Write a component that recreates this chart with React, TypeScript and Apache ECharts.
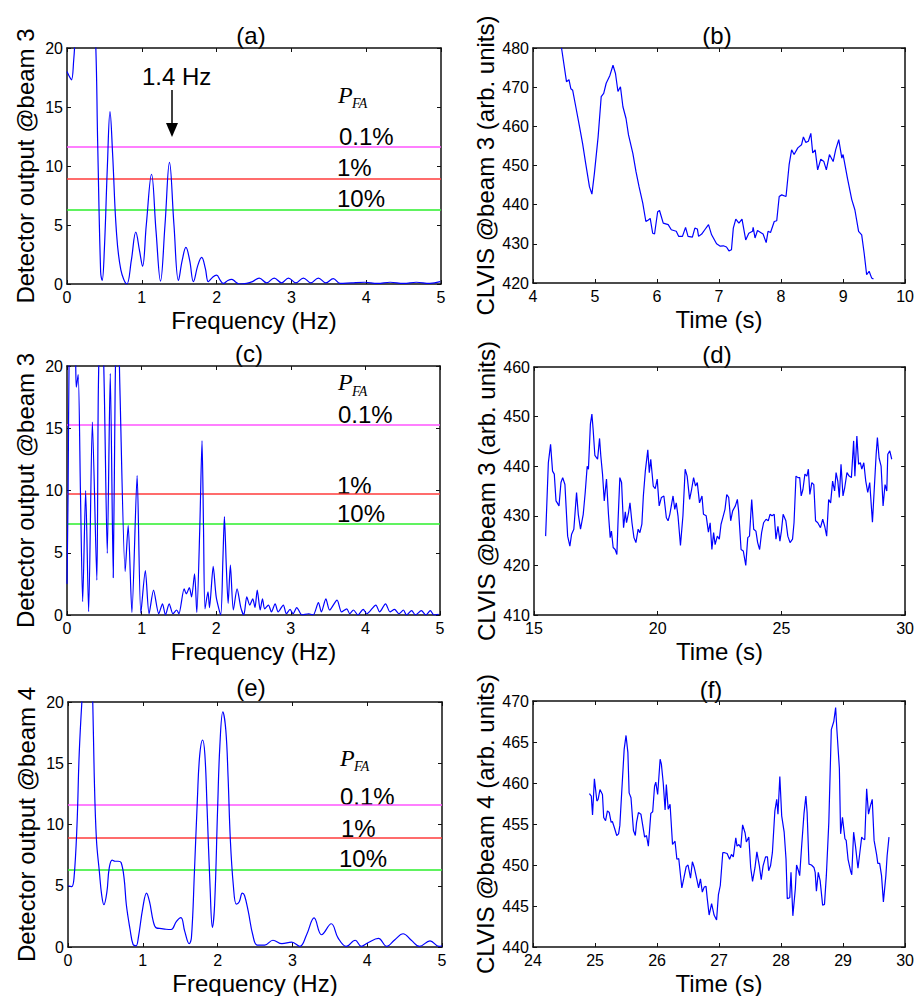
import React, { useEffect, useRef } from "react";
import * as echarts from "echarts";

// ---------- data ----------
const A_SPECTRUM: [number, number][] = [
  [0, 18.0], [0.03, 17.6], [0.06, 17.3], [0.09, 19], [0.11, 21], [0.2, 30], [0.3, 30], [0.38, 21],
  [0.41, 12], [0.45, 1], [0.47, 0.3], [0.5, 3], [0.54, 10], [0.575, 14.6], [0.61, 11], [0.66, 4.5],
  [0.72, 1.2], [0.8, 0], [0.86, 2], [0.92, 4.4], [0.97, 2.8], [1.01, 1.5], [1.06, 5], [1.13, 9.3],
  [1.19, 4.5], [1.25, 0.25], [1.31, 5], [1.37, 10.3], [1.43, 5], [1.49, 0.3], [1.54, 2], [1.59, 3.1],
  [1.64, 2], [1.69, 0.2], [1.75, 1.6], [1.8, 2.25], [1.85, 1.3], [1.89, 0.2], [1.95, 0.6], [2.0, 0.75],
  [2.05, 0.3], [2.09, 0.05], [2.15, 0.3], [2.2, 0.4], [2.25, 0.2], [2.3, 0], [2.4, 0.05], [2.48, 0.2],
  [2.57, 0.5], [2.67, 0.1], [2.77, 0.5], [2.87, 0.1], [2.96, 0.5], [3.06, 0.1], [3.16, 0.5], [3.26, 0.1],
  [3.36, 0.5], [3.46, 0.1], [3.56, 0.45], [3.65, 0.05], [3.8, 0.1], [3.98, 0.15], [4.15, 0.05],
  [4.32, 0.15], [4.5, 0.05], [4.67, 0.15], [4.85, 0.05], [4.99, 0.2],
];

const B_CLVIS: [number, number][] = [
  [4.46, 480], [4.54, 471.4], [4.58, 471.9], [4.61, 469.6], [4.64, 469.2], [4.69, 465], [4.75, 459.9],
  [4.8, 455.6], [4.85, 450.5], [4.91, 444.6], [4.95, 442.7], [4.99, 448], [5.05, 457.3], [5.1, 467.6],
  [5.14, 468.4], [5.18, 471], [5.24, 473], [5.29, 475.6], [5.33, 473.5], [5.37, 468.9], [5.41, 470.1],
  [5.45, 465], [5.5, 462], [5.54, 457.8], [5.61, 453.1], [5.66, 448.5], [5.71, 444.6], [5.77, 440.4],
  [5.82, 435.7], [5.86, 436.1], [5.89, 436.5], [5.93, 432.7], [5.96, 432.5], [6.01, 438.2], [6.04, 438.5],
  [6.1, 435.3], [6.18, 434.9], [6.23, 433.6], [6.31, 433.2], [6.35, 431.9], [6.41, 431.9], [6.46, 434.2],
  [6.5, 431.9], [6.57, 431.7], [6.61, 434], [6.65, 433.8], [6.67, 431.9], [6.72, 432.5], [6.77, 433.6],
  [6.83, 434.9], [6.88, 432.3], [6.96, 430], [7.02, 429.4], [7.07, 429.5], [7.12, 429.2], [7.16, 428.2],
  [7.2, 428.5], [7.23, 434], [7.27, 436.3], [7.32, 435.3], [7.37, 436.3], [7.43, 431], [7.48, 432.7],
  [7.54, 433.2], [7.55, 434.2], [7.58, 431.5], [7.62, 433.4], [7.67, 432.9], [7.71, 432.5], [7.76, 430.3],
  [7.79, 433.2], [7.83, 432.9], [7.89, 435.7], [7.93, 435.9], [7.97, 442.1], [8.01, 442.5], [8.08, 442.1],
  [8.13, 450.2], [8.17, 454], [8.21, 452.8], [8.27, 454.5], [8.33, 455.3], [8.36, 457.3], [8.4, 455.9],
  [8.44, 456.2], [8.48, 458.2], [8.51, 453.2], [8.55, 454], [8.59, 448.9], [8.64, 451.6], [8.69, 451],
  [8.73, 448.9], [8.78, 452.8], [8.84, 451], [8.88, 454], [8.93, 456.6], [8.98, 451.9], [9.0, 452.8],
  [9.07, 446.8], [9.14, 441.3], [9.19, 438.7], [9.25, 433.2], [9.3, 432.3], [9.34, 427.6], [9.38, 422.1],
  [9.42, 423], [9.46, 421.3], [9.49, 421],
];

const C_SPECTRUM: [number, number][] = [
  [0, 2.5], [0.015, 10], [0.03, 22], [0.06, 28], [0.09, 24], [0.115, 20.5], [0.125, 18.3], [0.15, 19.3],
  [0.18, 10], [0.21, 1.07], [0.25, 10.0], [0.29, 0.27], [0.34, 15.5], [0.4, 2.8], [0.42, 18], [0.46, 27],
  [0.5, 18], [0.54, 4.95], [0.58, 19.4], [0.62, 3.0], [0.645, 18], [0.675, 27], [0.71, 18], [0.78, 3.5],
  [0.82, 7.2], [0.87, 0.2], [0.94, 11.2], [0.99, 0.14], [1.05, 3.56], [1.1, 0.1], [1.16, 2.0], [1.23, 0.1],
  [1.28, 0.9], [1.32, 0], [1.37, 0.9], [1.42, 0.1], [1.47, 0.4], [1.5, 0.1], [1.57, 2.1], [1.6, 1.7],
  [1.64, 2.2], [1.67, 1.45], [1.71, 3.3], [1.74, 0.2], [1.78, 7], [1.81, 14.0], [1.83, 7], [1.85, 0.5],
  [1.89, 1.85], [1.91, 0.6], [1.96, 3.9], [2.0, 1.45], [2.06, 0], [2.09, 4.5], [2.11, 7.9], [2.135, 4],
  [2.16, 0.94], [2.19, 4.0], [2.23, 0.4], [2.28, 2.1], [2.33, 0.6], [2.37, 0], [2.41, 1.45], [2.45, 0.8],
  [2.49, 1.3], [2.52, 0.6], [2.55, 2.0], [2.59, 0.4], [2.62, 1.3], [2.65, 0.5], [2.7, 0.8], [2.74, 0.25],
  [2.79, 0.9], [2.83, 0.25], [2.9, 0.8], [2.94, 0.1], [2.99, 0.45], [3.03, 0.1], [3.08, 0.6], [3.15, 0],
  [3.24, 0.1], [3.3, 0], [3.37, 1.0], [3.41, 0.25], [3.47, 1.3], [3.52, 0.4], [3.62, 1.2], [3.68, 0.25],
  [3.75, 0.5], [3.79, 0.1], [3.84, 0.4], [3.9, 0], [3.97, 0.45], [4.02, 0.1], [4.14, 0.8], [4.19, 0.25],
  [4.27, 0.9], [4.33, 0.25], [4.39, 0.45], [4.45, 0.1], [4.51, 0.4], [4.55, 0], [4.62, 0.35], [4.67, 0],
  [4.75, 0.35], [4.81, 0], [4.87, 0.35], [4.92, 0], [4.98, 0.05],
];

const D_CLVIS: [number, number][] = [
  [15.47, 425.9], [15.58, 440.7], [15.67, 444.4], [15.75, 439.0], [15.82, 438.4], [15.89, 433.0],
  [15.94, 432.6], [16.01, 432.0], [16.09, 436.7], [16.16, 437.7], [16.25, 436.3], [16.36, 425.9],
  [16.45, 423.9], [16.52, 426.3], [16.61, 427.3], [16.72, 434.7], [16.79, 430.3], [16.88, 427.3],
  [16.99, 430.3], [17.07, 434.7], [17.15, 440.0], [17.2, 439.4], [17.28, 448.5], [17.34, 450.5],
  [17.39, 447.4], [17.46, 442.2], [17.57, 441.4], [17.65, 445.6], [17.7, 442.1], [17.77, 438.4],
  [17.84, 433.0], [17.93, 437.4], [18.01, 430.3], [18.08, 425.6], [18.13, 426.9], [18.2, 423.6],
  [18.28, 423.2], [18.35, 422.2], [18.4, 429.3], [18.47, 437.7], [18.54, 436.7], [18.62, 427.6],
  [18.69, 430.8], [18.74, 428.6], [18.82, 430.6], [18.88, 432.6], [18.96, 428.6], [19.04, 425.6],
  [19.12, 424.6], [19.21, 427.3], [19.28, 426.6], [19.36, 428.3], [19.42, 434.0], [19.5, 439.0],
  [19.6, 443.3], [19.66, 438.7], [19.72, 441.4], [19.82, 436.0], [19.9, 435.5], [19.98, 437.4],
  [20.06, 432.0], [20.15, 433.7], [20.25, 434.0], [20.35, 429.6], [20.42, 429.0], [20.49, 430.3],
  [20.55, 432.0], [20.62, 434.0], [20.69, 431.3], [20.75, 432.6], [20.82, 430.0], [20.92, 424.0],
  [21.02, 430.0], [21.11, 439.4], [21.19, 438.0], [21.29, 433.3], [21.37, 435.3], [21.45, 437.7],
  [21.53, 436.0], [21.6, 436.7], [21.69, 432.6], [21.79, 434.0], [21.85, 430.3], [21.96, 430.0],
  [22.05, 426.7], [22.12, 428.6], [22.19, 423.2], [22.26, 426.6], [22.32, 424.2], [22.41, 425.9],
  [22.49, 425.3], [22.56, 428.3], [22.63, 429.6], [22.72, 431.3], [22.79, 434.3], [22.87, 433.7],
  [22.95, 429.0], [23.03, 431.0], [23.14, 432.0], [23.22, 433.3], [23.27, 431.0], [23.37, 423.2],
  [23.46, 422.9], [23.56, 420.0], [23.64, 425.6], [23.71, 425.9], [23.8, 433.3], [23.88, 427.3],
  [23.97, 426.9], [24.04, 424.6], [24.12, 423.2], [24.2, 426.6], [24.28, 428.6], [24.38, 429.3],
  [24.47, 429.0], [24.54, 430.3], [24.62, 430.0], [24.71, 430.3], [24.78, 425.3], [24.86, 427.9],
  [24.94, 424.9], [25.0, 426.9], [25.07, 430.3], [25.18, 429.0], [25.26, 425.9], [25.35, 424.6],
  [25.45, 425.3], [25.51, 428.6], [25.59, 438.0], [25.67, 437.7], [25.74, 437.7], [25.8, 434.0],
  [25.87, 435.3], [25.95, 438.4], [26.03, 438.0], [26.09, 439.4], [26.15, 434.3], [26.23, 436.7],
  [26.31, 436.3], [26.38, 429.0], [26.47, 428.6], [26.58, 427.6], [26.67, 429.3], [26.75, 427.9],
  [26.83, 425.9], [26.91, 433.3], [26.99, 432.6], [27.07, 437.0], [27.15, 435.0], [27.21, 438.7],
  [27.28, 437.0], [27.34, 433.7], [27.41, 440.4], [27.49, 434.0], [27.56, 435.7], [27.65, 438.7],
  [27.74, 438.0], [27.83, 437.7], [27.92, 445.1], [27.97, 438.0], [28.05, 446.1], [28.12, 440.4],
  [28.19, 440.7], [28.25, 439.4], [28.33, 440.7], [28.41, 437.0], [28.49, 434.7], [28.57, 436.7],
  [28.68, 428.7], [28.76, 436.0], [28.83, 442.4], [28.88, 445.8], [28.95, 441.6], [29.03, 440.0],
  [29.11, 432.0], [29.19, 436.3], [29.26, 435.0], [29.3, 442.4], [29.38, 443.1], [29.46, 441.4],
];

const E_SPECTRUM: [number, number][] = [
  [0, 5.0], [0.018, 4.98], [0.05, 4.93], [0.08, 5.6], [0.12, 9.9], [0.15, 15.8], [0.19, 20.5], [0.23, 24],
  [0.27, 25], [0.31, 23], [0.33, 20.3], [0.35, 14.2], [0.38, 8.8], [0.42, 6.1], [0.45, 4.25], [0.48, 3.45],
  [0.52, 4.5], [0.55, 6.4], [0.59, 7.1], [0.63, 7.0], [0.67, 7.0], [0.71, 6.9], [0.75, 5.6], [0.78, 3.45],
  [0.83, 1.43], [0.87, 0.2], [0.91, 0.1], [0.94, 0.75], [1.0, 3.2], [1.05, 4.4], [1.09, 3.7], [1.14, 2.1],
  [1.18, 1.56], [1.25, 1.5], [1.31, 1.45], [1.38, 1.43], [1.45, 2.1], [1.51, 2.4], [1.56, 1.3], [1.62, 0.27],
  [1.65, 0.75], [1.69, 6.1], [1.73, 12.1], [1.76, 15.6], [1.8, 16.9], [1.83, 15.7], [1.86, 11.25], [1.9, 4.8],
  [1.93, 1.6], [1.96, 3.45], [2.0, 11.25], [2.03, 16.4], [2.07, 19.2], [2.11, 17.7], [2.14, 13.9], [2.17, 8.8],
  [2.21, 5.06], [2.25, 3.5], [2.29, 3.7], [2.33, 4.4], [2.36, 4.2], [2.41, 2.9], [2.47, 1.0], [2.53, 0.16],
  [2.63, 0.16], [2.74, 0.55], [2.86, 0.27], [2.99, 0.4], [3.1, 0.05], [3.19, 1.0], [3.29, 2.37], [3.39, 1.0],
  [3.52, 1.9], [3.61, 0.75], [3.72, 0.05], [3.84, 0.55], [3.92, 0.05], [4.01, 0.35], [4.15, 0.7], [4.26, 0.05],
  [4.37, 0.6], [4.48, 1.08], [4.59, 0.55], [4.7, 0.05], [4.84, 0.5], [4.96, 0.05], [5.0, 0.1],
];

const F_CLVIS: [number, number][] = [
  [24.91, 458.7], [24.94, 458.4], [24.96, 456.1], [24.99, 460.5], [25.03, 457.8], [25.05, 458.0],
  [25.08, 459.2], [25.12, 458.6], [25.14, 455.8], [25.17, 455.4], [25.2, 456.6], [25.23, 456.4],
  [25.26, 455.2], [25.28, 455.3], [25.31, 454.6], [25.35, 453.6], [25.38, 453.8], [25.4, 454.8],
  [25.43, 458.8], [25.47, 464.1], [25.5, 465.8], [25.53, 463.7], [25.55, 458.8], [25.58, 458.2],
  [25.62, 454.2], [25.65, 453.6], [25.67, 455.2], [25.7, 456.4], [25.74, 456.2], [25.77, 454.8],
  [25.8, 453.4], [25.83, 453.6], [25.86, 452.3], [25.9, 456.3], [25.93, 456.5], [25.96, 459.6],
  [25.98, 460.1], [26.01, 458.6], [26.05, 462.9], [26.07, 462.3], [26.1, 460.0], [26.13, 456.7],
  [26.15, 459.8], [26.18, 456.8], [26.21, 457.4], [26.25, 452.5], [26.29, 452.9], [26.32, 450.7],
  [26.35, 450.8], [26.4, 447.2], [26.43, 448.3], [26.47, 449.8], [26.5, 450.0], [26.54, 448.4],
  [26.57, 450.4], [26.6, 449.7], [26.64, 448.3], [26.67, 447.2], [26.7, 448.3], [26.73, 446.7],
  [26.76, 447.3], [26.79, 447.4], [26.81, 445.9], [26.84, 443.9], [26.88, 445.3], [26.92, 443.9],
  [26.96, 443.3], [26.99, 446.4], [27.02, 447.5], [27.06, 451.5], [27.09, 451.5], [27.13, 451.4],
  [27.17, 450.7], [27.2, 451.3], [27.23, 451.0], [27.27, 453.3], [27.29, 452.3], [27.32, 452.5],
  [27.35, 452.1], [27.38, 454.9], [27.42, 453.9], [27.44, 452.8], [27.48, 453.4], [27.51, 449.7],
  [27.54, 448.0], [27.58, 449.7], [27.61, 451.6], [27.65, 449.9], [27.68, 448.2], [27.71, 449.9],
  [27.75, 451.0], [27.78, 451.0], [27.8, 449.3], [27.83, 449.9], [27.86, 451.5], [27.9, 456.6],
  [27.93, 458.0], [27.95, 456.2], [27.98, 460.8], [28.01, 456.0], [28.05, 454.0], [28.08, 450.7],
  [28.1, 445.9], [28.14, 446.0], [28.16, 449.1], [28.19, 443.8], [28.23, 447.1], [28.25, 450.0],
  [28.28, 449.3], [28.3, 448.7], [28.33, 452.1], [28.37, 456.3], [28.4, 458.4], [28.42, 456.4],
  [28.45, 450.1], [28.49, 450.0], [28.53, 449.7], [28.55, 449.1], [28.57, 446.8], [28.6, 449.1],
  [28.63, 448.1], [28.67, 445.1], [28.7, 445.2], [28.73, 448.7], [28.77, 455.2], [28.81, 466.5],
  [28.85, 467.5], [28.88, 469.2], [28.9, 466.5], [28.94, 461.8], [28.96, 453.8], [28.99, 455.8],
  [29.03, 453.2], [29.05, 453.0], [29.08, 450.7], [29.12, 449.3], [29.14, 448.8], [29.17, 454.0],
  [29.2, 452.3], [29.24, 449.6], [29.27, 451.5], [29.3, 453.4], [29.32, 453.2], [29.35, 453.1],
  [29.38, 459.3], [29.41, 456.2], [29.44, 457.2], [29.47, 458.0], [29.5, 453.0], [29.54, 451.3],
  [29.56, 450.2], [29.59, 450.2], [29.62, 448.7], [29.65, 445.5], [29.69, 448.7], [29.71, 451.1],
  [29.74, 453.4],
];

// detection thresholds for P_FA = 0.1%, 1%, 10%
const PFA_LABELS = ["0.1%", "1%", "10%"];
const THRESH_A = [11.6, 8.9, 6.3];
const THRESH_C = [15.3, 9.7, 7.3];
const THRESH_E = [11.6, 8.9, 6.3];

const PANEL_TITLES = ["(a)", "(b)", "(c)", "(d)", "(e)", "(f)"];
const FREQ_NAME = "Frequency (Hz)";
const TIME_NAME = "Time (s)";
const Y_NAMES = [
  "Detector output @beam 3",
  "CLVIS @beam 3 (arb. units)",
  "Detector output @beam 3",
  "CLVIS @beam 3 (arb. units)",
  "Detector output @beam 4",
  "CLVIS @beam 4 (arb. units)",
];
const X_RANGES: [number, number, number][] = [
  [0, 5, 1], [4, 10, 1], [0, 5, 1], [15, 30, 5], [0, 5, 1], [24, 30, 1],
];
const Y_RANGES: [number, number, number][] = [
  [0, 20, 5], [420, 480, 10], [0, 20, 5], [410, 460, 10], [0, 20, 5], [440, 470, 5],
];

// ---------- layout ----------
const GRIDS = [
  { left: 67, top: 48, width: 374, height: 236 },
  { left: 533, top: 48, width: 374, height: 235 },
  { left: 67, top: 366, width: 373, height: 249 },
  { left: 534, top: 367, width: 373, height: 248 },
  { left: 68, top: 702, width: 374, height: 247 },
  { left: 533, top: 701, width: 373, height: 247 },
];
const TITLE_POS = [
  [251, 35], [717, 35], [249, 353], [717, 354], [251, 687], [711, 689],
];
const FONT = '"Liberation Sans", Arial, sans-serif';
const SERIF = '"Liberation Serif", "Times New Roman", serif';
const THRESH_COLORS = ["#ff55ff", "#ff3b3b", "#2bef2b"];
const AXIS_COLOR = "#111";

function buildOption() {
  const xAxis: any[] = [];
  const yAxis: any[] = [];
  const series: any[] = [];
  const graphic: any[] = [];

  const isFreq = [true, false, true, false, true, false];
  const datasets = [A_SPECTRUM, B_CLVIS, C_SPECTRUM, D_CLVIS, E_SPECTRUM, F_CLVIS];
  const thresholds = [THRESH_A, null, THRESH_C, null, THRESH_E, null];

  for (let i = 0; i < 6; i++) {
    const [xmin, xmax, xint] = X_RANGES[i];
    const [ymin, ymax, yint] = Y_RANGES[i];
    const common = {
      gridIndex: i,
      type: "value",
      splitLine: { show: false },
      axisLine: { show: true, onZero: false, lineStyle: { color: AXIS_COLOR, width: 1.5 } },
      axisTick: { show: true, inside: true, length: 4, lineStyle: { color: AXIS_COLOR, width: 1 } },
    };
    xAxis.push({
      ...common,
      position: "bottom",
      min: xmin, max: xmax, interval: xint,
      axisLabel: { show: true, color: "#000", fontSize: 16, fontFamily: FONT, margin: 5, showMinLabel: true, showMaxLabel: true },
      name: isFreq[i] ? FREQ_NAME : TIME_NAME,
      nameLocation: "middle",
      nameGap: 24,
      nameTextStyle: { color: "#000", fontSize: 24, fontFamily: FONT },
    });
    xAxis.push({
      ...common,
      position: "top",
      min: xmin, max: xmax, interval: xint,
      axisLabel: { show: false },
    });
    yAxis.push({
      ...common,
      position: "left",
      min: ymin, max: ymax, interval: yint,
      axisLabel: { show: true, color: "#000", fontSize: 16, fontFamily: FONT, margin: 4, showMinLabel: true, showMaxLabel: true },
      name: Y_NAMES[i],
      nameLocation: "middle",
      nameGap: isFreq[i] ? 30 : 36,
      nameTextStyle: { color: "#000", fontSize: 24, fontFamily: FONT },
    });
    yAxis.push({
      ...common,
      position: "right",
      min: ymin, max: ymax, interval: yint,
      axisLabel: { show: false },
    });

    const th = thresholds[i];
    series.push({
      type: "line",
      xAxisIndex: 2 * i,
      yAxisIndex: 2 * i,
      data: datasets[i],
      showSymbol: false,
      symbol: "none",
      smooth: isFreq[i] ? (i === 2 ? 0.25 : 0.4) : false,
      clip: true,
      lineStyle: { color: "#0000ff", width: 1.2 },
      z: 3,
      markLine: th
        ? {
            silent: true,
            symbol: ["none", "none"],
            label: { show: false },
            z: 2,
            data: th.map((v, k) => ({
              yAxis: v,
              lineStyle: { color: THRESH_COLORS[k], width: 1.7, type: "solid" },
            })),
          }
        : undefined,
    });

    graphic.push({
      type: "text",
      x: TITLE_POS[i][0],
      y: TITLE_POS[i][1],
      style: { text: PANEL_TITLES[i], fontSize: 24, fontFamily: FONT, fill: "#000", align: "center", verticalAlign: "middle" },
    });
  }

  // P_FA annotations
  const pfaPos = [
    { px: 338, py: 94.5, sx: 352, sy: 103, labels: [[339, 136], [337, 167], [337, 198]] },
    { px: 338, py: 381.5, sx: 352, sy: 391, labels: [[338, 414], [337, 485], [337, 513]] },
    { px: 340, py: 758, sx: 354, sy: 766, labels: [[340, 796], [341, 828], [339, 858]] },
  ];
  pfaPos.forEach((p) => {
    graphic.push({
      type: "text", x: p.px, y: p.py,
      style: { text: "P", fontSize: 24, fontFamily: SERIF, fontStyle: "italic", fill: "#000", align: "left", verticalAlign: "middle" },
    });
    graphic.push({
      type: "text", x: p.sx, y: p.sy,
      style: { text: "FA", fontSize: 14, fontFamily: SERIF, fontStyle: "italic", fill: "#000", align: "left", verticalAlign: "middle" },
    });
    p.labels.forEach((l, k) => {
      graphic.push({
        type: "text", x: l[0], y: l[1],
        style: { text: PFA_LABELS[k], fontSize: 24, fontFamily: FONT, fill: "#000", align: "left", verticalAlign: "middle" },
      });
    });
  });

  // 1.4 Hz arrow annotation in (a)
  graphic.push({
    type: "text", x: 142, y: 76,
    style: { text: "1.4 Hz", fontSize: 24, fontFamily: FONT, fill: "#000", align: "left", verticalAlign: "middle" },
  });
  graphic.push({
    type: "line",
    shape: { x1: 172, y1: 90, x2: 172, y2: 125 },
    style: { stroke: "#000", lineWidth: 1.5 },
  });
  graphic.push({
    type: "polygon",
    shape: { points: [[166, 123], [178, 123], [172, 137]] },
    style: { fill: "#000" },
  });

  return {
    animation: false,
    backgroundColor: "#ffffff",
    grid: GRIDS.map((g) => ({ ...g, containLabel: false, show: false })),
    xAxis,
    yAxis,
    series,
    graphic,
  };
}

export default function App() {
  const ref = useRef<HTMLDivElement>(null);
  useEffect(() => {
    document.body.style.margin = "0";
    if (!ref.current) return;
    const chart = echarts.init(ref.current, undefined, { renderer: "svg" });
    chart.setOption(buildOption() as any);
    return () => chart.dispose();
  }, []);
  return <div ref={ref} style={{ width: 917, height: 996, background: "#fff" }} />;
}
